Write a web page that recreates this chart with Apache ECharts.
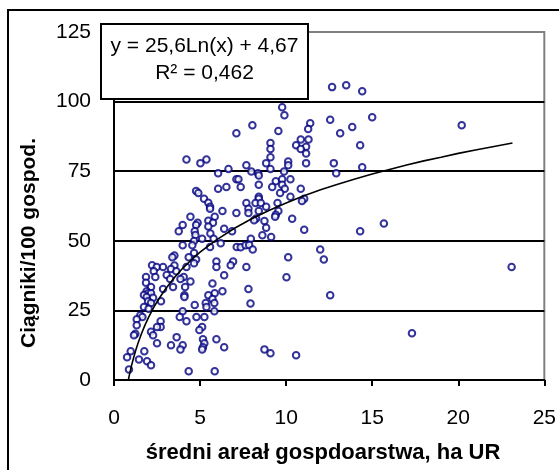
<!DOCTYPE html>
<html>
<head>
<meta charset="utf-8">
<script src="https://cdn.jsdelivr.net/npm/echarts@6/dist/echarts.min.js"></script>
<style>
  html, body { margin: 0; padding: 0; background: #fff; }
  #main { width: 559px; height: 470px; }
</style>
</head>
<body>
<div id="main"></div>
<script>
// średni areał (ha UR) i ciągniki/100 gospod.
const areaHa = [
  12.67, 13.49, 14.42, 9.77, 9.90, 12.56, 15.0, 11.40, 8.04, 20.2,
  11.28, 13.84, 9.55, 7.11, 13.14, 9.09, 10.85, 11.3, 14.3, 10.58,
  11.16, 9.09, 10.85, 11.16, 9.09, 4.21, 5.37, 10.12, 5.02, 8.84,
  11.16, 12.77, 10.12, 7.69, 9.09, 14.42, 6.65, 7.98, 9.88, 6.05,
  8.37, 12.91, 8.41, 10.25, 7.11, 7.23, 9.40, 9.77, 8.41, 9.77,
  9.19, 6.53, 7.36, 6.05, 9.92, 10.85, 4.77, 4.90, 9.65, 10.25,
  5.23, 8.41, 8.41, 11.05, 10.92, 5.48, 8.22, 7.69, 8.53, 9.50,
  5.58, 5.58, 8.84, 7.81, 6.30, 7.11, 7.81, 9.55, 8.41, 9.40,
  9.36, 4.44, 5.85, 8.26, 10.35, 5.48, 8.14, 8.74, 5.75, 4.86,
  15.68, 3.99, 4.77, 5.48, 6.40, 8.84, 11.05, 14.3, 3.76, 4.69,
  6.86, 5.60, 4.73, 8.62, 9.13, 5.12, 5.79, 7.95, 6.20, 4.65,
  3.99, 4.55, 5.58, 7.13, 7.36, 7.64, 7.85, 11.98, 8.06, 4.65,
  3.51, 4.34, 3.39, 10.12, 12.19, 4.77, 6.92, 5.95, 6.78, 2.21,
  4.65, 2.48, 2.85, 3.51, 4.21, 5.95, 7.69, 23.1, 2.31, 3.31,
  3.62, 3.06, 2.40, 1.86, 4.05, 6.40, 10.02, 3.26, 3.86, 4.44,
  1.86, 5.72, 3.43, 4.13, 2.15, 2.85, 7.81, 1.90, 6.30, 1.98,
  5.85, 2.15, 1.74, 5.48, 4.09, 12.56, 1.90, 4.09, 2.27, 5.72,
  1.98, 2.73, 5.33, 5.83, 7.93, 2.15, 1.74, 4.69, 2.01, 5.37,
  3.99, 5.83, 1.53, 1.65, 3.82, 4.79, 5.25, 1.32, 4.21, 2.71,
  1.32, 5.12, 2.71, 2.50, 4.96, 2.15, 17.31, 1.24, 1.16, 2.27,
  3.64, 5.17, 5.95, 2.50, 5.25, 3.31, 3.99, 6.40, 5.17, 5.12,
  3.86, 8.74, 9.09, 10.58, 0.97, 1.76, 0.76, 1.45, 1.92, 2.15,
  0.87, 4.34, 5.85
];
const tractors = [
  105.2, 105.9, 103.7, 98.0, 95.1, 93.5, 94.4, 92.2, 91.5, 91.5,
  90.2, 90.9, 89.4, 88.6, 88.6, 85.1, 86.4, 86.4, 84.3, 84.3,
  83.8, 83.0, 83.0, 81.4, 80.0, 79.2, 79.2, 78.5, 77.9, 77.9,
  77.9, 77.9, 77.1, 77.1, 75.8, 76.4, 75.8, 74.9, 74.9, 74.3,
  74.3, 74.3, 73.5, 72.1, 72.1, 72.1, 71.4, 72.1, 70.1, 70.1,
  69.3, 69.3, 69.3, 68.7, 68.7, 68.7, 67.9, 67.2, 67.2, 65.8,
  65.1, 65.8, 65.1, 65.1, 64.3, 63.7, 63.6, 63.6, 63.6, 63.6,
  62.2, 61.5, 62.2, 61.5, 60.7, 60.0, 60.0, 60.7, 60.7, 59.4,
  58.6, 58.6, 58.6, 58.0, 57.9, 57.2, 57.4, 57.1, 56.5, 56.5,
  56.2, 55.7, 55.7, 55.1, 54.3, 54.7, 54.0, 53.4, 53.4, 53.4,
  53.4, 52.6, 52.1, 52.0, 51.4, 50.7, 50.7, 50.7, 49.1, 49.9,
  48.4, 48.4, 47.8, 47.8, 47.7, 48.4, 48.5, 46.9, 46.9, 45.6,
  44.7, 44.1, 44.1, 44.1, 43.3, 43.3, 42.6, 42.6, 41.2, 41.2,
  41.9, 40.6, 40.6, 41.1, 40.6, 40.6, 40.6, 40.6, 39.1, 39.9,
  39.1, 37.7, 37.0, 37.0, 37.0, 37.6, 36.9, 36.3, 36.3, 35.4,
  34.9, 34.7, 33.4, 33.4, 33.4, 32.7, 32.7, 31.9, 31.9, 31.2,
  31.2, 31.2, 30.5, 30.4, 30.4, 30.4, 29.8, 29.8, 29.5, 29.1,
  28.3, 28.3, 27.7, 27.7, 27.5, 27.7, 26.2, 26.9, 25.6, 26.2,
  24.7, 24.7, 23.3, 22.6, 22.6, 22.6, 22.6, 21.8, 21.1, 21.1,
  19.7, 19.0, 19.0, 19.0, 18.0, 17.3, 16.8, 16.6, 16.1, 16.1,
  15.4, 14.6, 14.6, 13.2, 13.2, 12.5, 12.5, 11.8, 11.8, 11.0,
  11.0, 11.0, 9.6, 8.9, 10.3, 10.3, 8.2, 7.4, 6.7, 5.3,
  3.8, 3.1, 3.1
];
// linia trendu (logarytmiczna) – punkty
const trendX = [0.84, 0.9, 1, 1.1, 1.25, 1.4, 1.6, 1.8, 2, 2.3, 2.6, 3, 3.5, 4, 4.5, 5, 5.5, 6,
  7, 8, 9, 10, 11, 12, 13, 14, 15, 16, 17, 18, 19, 20, 21, 22, 23.15];
const trendY = [0.2, 2.0, 4.7, 7.1, 10.4, 13.3, 16.7, 19.7, 22.4, 26.0, 29.1, 32.8, 36.7, 40.2, 43.2, 45.9, 48.3, 50.5,
  54.5, 57.9, 60.9, 63.6, 66.1, 68.3, 70.3, 72.2, 74.0, 75.6, 77.2, 78.7, 80.0, 81.4, 82.6, 83.8, 85.1];
const xTicks = [0, 5, 10, 15, 20, 25];
const yTicks = [0, 25, 50, 75, 100, 125];
const eqText = 'y = 25,6Ln(x) + 4,67';
const r2Text = 'R² = 0,462';
const xTitle = 'średni areał gospdoarstwa, ha UR';
const yTitle = 'Ciągniki/100 gospod.';

const font = 'Liberation Sans, Arial, sans-serif';
let myChart = echarts.init(document.getElementById('main'), null, { renderer: 'canvas' });

let points = areaHa.map((x, i) => [x, tractors[i]]);
let trend = trendX.map((x, i) => [x, trendY[i]]);

let option = {
  animation: false,
  backgroundColor: '#fff',
  grid: {
    left: 114, top: 32, width: 432, height: 348,
    show: true,
    borderColor: '#808080',
    borderWidth: 2
  },
  xAxis: {
    type: 'value',
    min: xTicks[0], max: xTicks[xTicks.length - 1], interval: 5,
    axisLine: { onZero: false, lineStyle: { color: '#000', width: 2 } },
    axisTick: { show: true, inside: false, length: 6, lineStyle: { color: '#000', width: 2 } },
    axisLabel: { fontFamily: font, fontSize: 21, color: '#000', margin: 28 },
    splitLine: { show: false }
  },
  yAxis: {
    type: 'value',
    min: yTicks[0], max: yTicks[yTicks.length - 1], interval: 25,
    axisLine: { show: true, lineStyle: { color: '#000', width: 2 } },
    axisTick: { show: false },
    axisLabel: { fontFamily: font, fontSize: 21, color: '#000', margin: 23 },
    splitLine: {
      show: true,
      lineStyle: { color: ['#000', '#000', '#000', '#000', '#000', '#808080'], width: 2 }
    }
  },
  graphic: [
    {
      type: 'rect',
      shape: { x: 8, y: 10, width: 620, height: 520 },
      style: { fill: null, stroke: '#000', lineWidth: 2 },
      silent: true, z: 0
    },
    {
      type: 'rect',
      shape: { x: 101, y: 24, width: 207, height: 75 },
      style: { fill: '#fff', stroke: '#000', lineWidth: 2 },
      z: 100
    },
    {
      type: 'text',
      x: 204.5, y: 46, z: 101,
      style: { text: eqText, font: '21px ' + font, fill: '#000', align: 'center', verticalAlign: 'middle' }
    },
    {
      type: 'text',
      x: 204.5, y: 73, z: 101,
      style: { text: r2Text, font: '21px ' + font, fill: '#000', align: 'center', verticalAlign: 'middle' }
    },
    {
      type: 'text',
      x: 323, y: 453, z: 101,
      style: { text: xTitle, font: 'bold 22px ' + font, fill: '#000', align: 'center', verticalAlign: 'middle' }
    },
    {
      type: 'text',
      x: 29, y: 243, rotation: Math.PI / 2, z: 101,
      style: { text: yTitle, font: 'bold 21px ' + font, fill: '#000', align: 'center', verticalAlign: 'middle' }
    }
  ],
  series: [
    {
      name: 'gminy',
      type: 'scatter',
      data: points,
      symbol: 'emptyCircle',
      symbolSize: 6.5,
      itemStyle: { color: '#000080', borderColor: '#000080', borderWidth: 1.6 },
      z: 3
    },
    {
      name: 'trend',
      type: 'line',
      data: trend,
      showSymbol: false,
      smooth: false,
      lineStyle: { color: '#000', width: 1.6 },
      z: 4
    }
  ]
};
myChart.setOption(option);
</script>
</body>
</html>
